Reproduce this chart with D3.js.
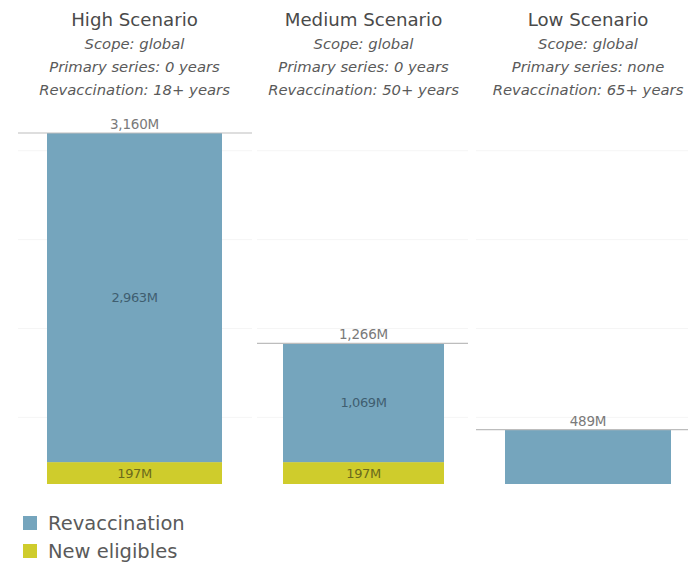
<!DOCTYPE html>
<html>
<head>
<meta charset="utf-8">
<script src="https://cdn.jsdelivr.net/npm/d3@7"></script>
<style>
  body { margin: 0; background: #fff; }
  text { font-family: "DejaVu Sans", "Open Sans", sans-serif; }
</style>
</head>
<body>
<svg id="chart"></svg>
<script>
// data
const scenarios = ["High Scenario", "Medium Scenario", "Low Scenario"];
const scopes = ["Scope: global", "Scope: global", "Scope: global"];
const primarySeries = ["Primary series: 0 years", "Primary series: 0 years", "Primary series: none"];
const revaccAges = ["Revaccination: 18+ years", "Revaccination: 50+ years", "Revaccination: 65+ years"];
const newEligibles = [197, 197, 0];
const revaccination = [2963, 1069, 489];
const totals = [3160, 1266, 489];
const gridValues = [600, 1400, 2200, 3000];
const seriesNames = ["Revaccination", "New eligibles"];

const colors = { "Revaccination": "#75a5bd", "New eligibles": "#cfcc2c" };

const width = 695, height = 565;
const svg = d3.select("#chart").attr("width", width).attr("height", height);

// panel layout in pixels: panel extent and bar extent
const panels = [
  { x: 18, w: 234, bx: 47, bw: 175 },
  { x: 257, w: 211, bx: 283, bw: 161 },
  { x: 476, w: 212, bx: 505, bw: 166 }
];

const y = d3.scaleLinear().domain([0, 3160]).range([484, 133]);

const fmt = d3.format(",");

scenarios.forEach(function(name, i) {
  const p = panels[i];
  const g = svg.append("g");

  const x = d3.scaleBand().domain([name]).range([p.bx, p.bx + p.bw]).padding(0);
  const cx = x(name) + x.bandwidth() / 2;

  // faint gridlines
  g.selectAll("line.grid")
    .data(gridValues)
    .enter()
    .append("line")
    .attr("x1", p.x)
    .attr("x2", p.x + p.w)
    .attr("y1", d => y(d))
    .attr("y2", d => y(d))
    .attr("stroke", "#f5f5f5");

  // titles
  g.append("text")
    .attr("x", cx)
    .attr("y", 26)
    .attr("text-anchor", "middle")
    .style("font-size", "18.2px")
    .attr("fill", "#4a4a4a")
    .text(name);

  [scopes[i], primarySeries[i], revaccAges[i]].forEach(function(t, j) {
    g.append("text")
      .attr("x", cx)
      .attr("y", 49 + j * 23)
      .attr("text-anchor", "middle")
      .style("font-size", "14.8px")
      .style("font-style", "italic")
      .attr("fill", "#5a5a5a")
      .text(t);
  });

  // stacked segments
  const segs = [
    { key: "New eligibles", y0: 0, y1: newEligibles[i] },
    { key: "Revaccination", y0: newEligibles[i], y1: newEligibles[i] + revaccination[i] }
  ];

  g.selectAll("rect.seg")
    .data(segs)
    .enter()
    .append("rect")
    .attr("x", x(name))
    .attr("width", x.bandwidth())
    .attr("y", d => y(d.y1))
    .attr("height", d => y(d.y0) - y(d.y1))
    .attr("fill", d => colors[d.key]);

  // inner labels (only when stacked)
  if (newEligibles[i] > 0) {
    g.selectAll("text.seg")
      .data(segs)
      .enter()
      .append("text")
      .attr("x", cx)
      .attr("y", d => (y(d.y0) + y(d.y1)) / 2 + 4.5)
      .attr("text-anchor", "middle")
      .style("font-size", "13px")
      .style("letter-spacing", "-0.4px")
      .attr("fill", d => d.key === "Revaccination" ? "#3f5e70" : "#6b6a1c")
      .text(d => fmt(d.y1 - d.y0) + "M");
  }

  // total reference line
  g.append("line")
    .attr("x1", p.x)
    .attr("x2", p.x + p.w)
    .attr("y1", y(totals[i]))
    .attr("y2", y(totals[i]))
    .attr("stroke", "#bdbdbd")
    .attr("stroke-width", 1.2);

  g.append("text")
    .attr("x", cx)
    .attr("y", y(totals[i]) - 4)
    .attr("text-anchor", "middle")
    .style("font-size", "13.5px")
    .style("letter-spacing", "-0.2px")
    .attr("fill", "#7a7a7a")
    .text(fmt(totals[i]) + "M");
});

// legend
const legend = svg.append("g").attr("transform", "translate(23,523)");
seriesNames.forEach(function(s, i) {
  legend.append("rect")
    .attr("x", 0)
    .attr("y", i * 28 - 7)
    .attr("width", 14)
    .attr("height", 14)
    .attr("fill", colors[s]);
  legend.append("text")
    .attr("x", 25)
    .attr("y", i * 28 + 7)
    .style("font-size", "19.5px")
    .attr("fill", "#5a5a5a")
    .text(s);
});
</script>
</body>
</html>
